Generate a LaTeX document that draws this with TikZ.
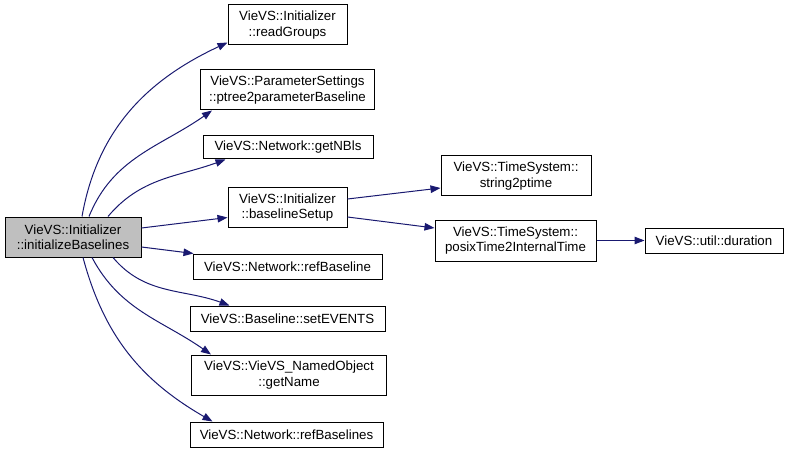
\documentclass[tikz,border=0pt]{standalone}
\usepackage{fontspec}
\setmainfont{Liberation Sans}
\usetikzlibrary{arrows.meta,positioning}
\definecolor{edgeblue}{RGB}{25,25,112}
\tikzset{
  fn/.style={draw=black, line width=1pt, fill=white, align=center, inner sep=1pt, font=\fontsize{13.3}{15.5}\selectfont},
  cur/.style={fn, fill=black!25},
  call/.style={-{Triangle[length=10pt,width=7.5pt]}, line width=1pt, draw=edgeblue}
}
\begin{document}
\begin{tikzpicture}[x=1pt,y=1pt]
  \useasboundingbox (0,0) rectangle (789,453);

  \node[cur, minimum width=136pt, minimum height=40pt] (init) at (73,216) {VieVS::Initializer\\::initializeBaselines};

  \node[fn, minimum width=119pt, minimum height=40pt] (readgroups) at (287.5,428) {VieVS::Initializer\\::readGroups};
  \node[fn, minimum width=174pt, minimum height=40pt] (ptree) at (287.5,363) {VieVS::ParameterSettings\\::ptree2parameterBaseline};
  \node[fn, minimum width=170pt, minimum height=23pt] (getnbls) at (288,305.5) {VieVS::Network::getNBls};
  \node[fn, minimum width=119pt, minimum height=39pt] (setup) at (287.5,245.5) {VieVS::Initializer\\::baselineSetup};
  \node[fn, minimum width=189pt, minimum height=25pt] (refbl) at (287.5,186.5) {VieVS::Network::refBaseline};
  \node[fn, minimum width=195pt, minimum height=25pt] (setevents) at (287.5,134.5) {VieVS::Baseline::setEVENTS};
  \node[fn, minimum width=195pt, minimum height=40pt] (getname) at (289,78) {VieVS::VieVS\_NamedObject\\::getName};
  \node[fn, minimum width=193pt, minimum height=25pt] (refbls) at (286.5,18.5) {VieVS::Network::refBaselines};

  \node[fn, minimum width=150pt, minimum height=40pt] (string2) at (516,277) {VieVS::TimeSystem::\\string2ptime};
  \node[fn, minimum width=161pt, minimum height=41pt] (posix) at (515.5,212.5) {VieVS::TimeSystem::\\posixTime2InternalTime};
  \node[fn, minimum width=138pt, minimum height=25pt] (duration) at (714,212.5) {VieVS::util::duration};

  % calls of initializeBaselines
  \draw[call] ([xshift=9pt]init.north) to[out=80,in=205] ([yshift=3pt]readgroups.south west);
  \draw[call] ([xshift=16pt]init.north) to[out=68,in=215] ([xshift=12pt]ptree.south west);
  \draw[call] ([xshift=35pt]init.north) to[out=50,in=200] ([xshift=23pt]getnbls.south west);
  \draw[call] ([yshift=9pt]init.east) -- ([yshift=-10pt]setup.west);
  \draw[call] ([yshift=-10pt]init.east) -- ([xshift=1pt]refbl.north west);
  \draw[call] ([xshift=40pt]init.south) to[out=-50,in=160] ([xshift=40pt]setevents.north west);
  \draw[call] ([xshift=19pt]init.south) to[out=-62,in=145] ([xshift=20pt]getname.north west);
  \draw[call] ([xshift=10pt]init.south) to[out=-75,in=150] ([xshift=23pt]refbls.north west);

  % calls of baselineSetup
  \draw[call] ([yshift=8.5pt]setup.east) -- ([yshift=-12pt]string2.west);
  \draw[call] ([yshift=-9.5pt]setup.east) -- ([yshift=12.5pt]posix.west);
  \draw[call] (posix.east) -- (duration.west);
\end{tikzpicture}
\end{document}
